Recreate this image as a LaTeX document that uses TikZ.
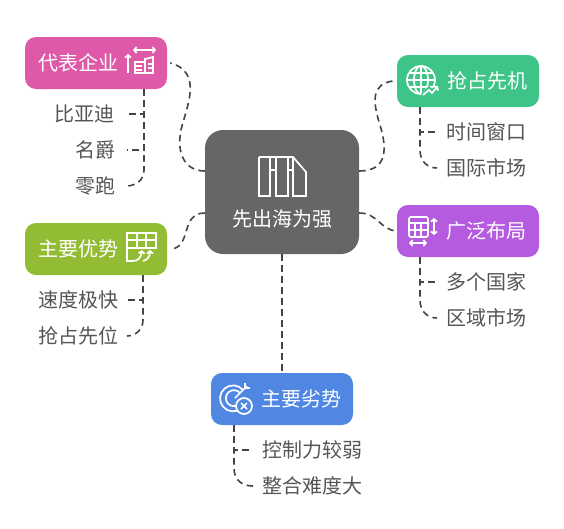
\documentclass[tikz,border=0pt]{standalone}
\usepackage{fontspec}
\setmainfont{Noto Sans CJK SC}
\usetikzlibrary{arrows.meta}
\definecolor{core}{HTML}{666666}
\definecolor{pink}{HTML}{DF59A9}
\definecolor{jade}{HTML}{3FC488}
\definecolor{violet}{HTML}{B55BE0}
\definecolor{olive}{HTML}{93BC35}
\definecolor{azure}{HTML}{4F87E3}
\definecolor{ink}{HTML}{444444}
\definecolor{leaftext}{HTML}{555555}
\tikzset{corebox/.style={fill=core,rounded corners=18pt,minimum width=154pt,minimum height=124pt,inner sep=0pt},branch/.style={rounded corners=11pt,minimum width=142pt,minimum height=52pt,inner sep=0pt},boxtext/.style={text=white,font=\fontsize{20}{20}\selectfont,inner sep=0pt},leafl/.style={text=leaftext,font=\fontsize{20}{20}\selectfont,inner sep=0pt,anchor=east},leafr/.style={text=leaftext,font=\fontsize{20}{20}\selectfont,inner sep=0pt,anchor=west},link/.style={ink,line width=1.6pt,dash pattern=on 6.5pt off 4.5pt},glyph/.style={white,line width=1.7pt},tip/.style={-{Straight Barb[length=2.5pt,width=6pt]}},tips/.style={{Straight Barb[length=2.5pt,width=6pt]}-{Straight Barb[length=2.5pt,width=6pt]}}}
\begin{document}
\begin{tikzpicture}[x=1pt,y=-1pt]
\useasboundingbox (0,0) rectangle (564,528);
\node[corebox] (sea) at (282,192) {};
\node[boxtext] (seatext) at (282,219) {先出海为强};
\node[branch,fill=pink] (firms) at (96,63) {};
\node[boxtext] (firmstext) at (78,63) {代表企业};
\node[branch,fill=jade] (first) at (468,81) {};
\node[boxtext] (firsttext) at (487,81) {抢占先机};
\node[branch,fill=violet] (wide) at (468,231) {};
\node[boxtext] (widetext) at (486,231) {广泛布局};
\node[branch,fill=olive] (gain) at (96,249) {};
\node[boxtext] (gaintext) at (78,249) {主要优势};
\node[branch,fill=azure] (lack) at (282,399) {};
\node[boxtext] (lacktext) at (301,399) {主要劣势};
\node[leafl] (byd) at (115,114) {比亚迪};
\node[leafl] (mg) at (116,150) {名爵};
\node[leafl] (zero) at (116,186) {零跑};
\node[leafr] (window) at (446,132) {时间窗口};
\node[leafr] (world) at (446,168) {国际市场};
\node[leafr] (lands) at (446,282) {多个国家};
\node[leafr] (region) at (446,318) {区域市场};
\node[leafl] (speed) at (119,300) {速度极快};
\node[leafl] (lead) at (119,336) {抢占先位};
\node[leafr] (grip) at (262,450) {控制力较弱};
\node[leafr] (merge) at (262,486) {整合难度大};
% links from the centre
\draw[link] ([yshift=21pt]sea.west) .. controls (186,171) and (176,155) .. (181,130) .. controls (186,108) and (204,72) .. ([xshift=3pt]firms.east);
\draw[link] ([yshift=21pt]sea.east) .. controls (388,171) and (387,148) .. (380,125) .. controls (372,100) and (372,84) .. ([xshift=-4pt]first.west);
\draw[link] ([yshift=-21pt]sea.east) .. controls (378,213) and (380,230) .. (wide.west);
\draw[link] ([yshift=-21pt]sea.west) .. controls (180,213) and (192,247) .. ([xshift=4pt]gain.east);
\draw[link] (sea.south) -- (lack.north);
% links to the leaves
\draw[link,shorten >=12pt] ([xshift=48pt]firms.south) |- (byd.east); \draw[link,shorten >=11pt] ([xshift=48pt]firms.south) |- (mg.east);
\draw[link,shorten >=10pt] ([xshift=48pt]firms.south) -- (144,170) .. controls (144,180) and (136,186) .. (zero.east);
\draw[link,shorten >=9pt] ([xshift=-48pt]first.south) |- (window.west);
\draw[link,shorten >=9pt] ([xshift=-48pt]first.south) -- (420,150) .. controls (420,162) and (428,168) .. (world.west);
\draw[link,shorten >=9pt] ([xshift=-48pt]wide.south) |- (lands.west);
\draw[link,shorten >=9pt] ([xshift=-48pt]wide.south) -- (420,300) .. controls (420,312) and (428,318) .. (region.west);
\draw[link,shorten >=9pt] ([xshift=47pt]gain.south) |- (speed.east);
\draw[link,shorten >=8pt] ([xshift=47pt]gain.south) -- (143,320) .. controls (143,330) and (135,336) .. (lead.east);
\draw[link,shorten >=10pt] ([xshift=-48pt]lack.south) |- (grip.west);
\draw[link,shorten >=9pt] ([xshift=-48pt]lack.south) -- (234,468) .. controls (234,480) and (242,486) .. (merge.west);
% icons
\draw[glyph] (259,157) -- (293,157) -- (306,172) -- (306,196) -- (293,196) -- (293,157) (293,170) -- (288,170) (288,157) -- (288,196) -- (276,196) -- (276,157) (276,170) -- (270,170) (270,157) -- (270,196) -- (259,196) -- (259,157);
\draw[glyph,tips] (133,50) -- (156,50); \draw[glyph,tip] (128,73) -- (128,54);
\draw[glyph] (135,73) -- (135,62) -- (145,62) -- (145,59) -- (153,57) -- (153,73) -- cycle (145,62) -- (145,73) (135,66) -- (142,66) (135,70) -- (142,70) (148,64) -- (153,64) (148,68) -- (153,68);
\draw[glyph] (421,80) circle[radius=14pt] (407,80) -- (435,80) (409,73) -- (433,73) (409,87) -- (433,87) (421,66) -- (421,94) (421,80) ellipse[x radius=7pt,y radius=14pt];
\draw[jade,line width=6pt] (423,96) -- (429,90) -- (432,93) -- (439,86);
\draw[glyph,tip] (423,95) -- (429,90) -- (432,93) -- (438,86);
\draw[glyph,rounded corners=2pt] (409,217) rectangle (428,237); \draw[glyph] (409,223) -- (428,223) (409,230) -- (428,230) (415,223) -- (415,237) (421,223) -- (421,237);
\draw[glyph,tips] (434,218) -- (434,235); \draw[glyph,tips] (409,243) -- (427,243);
\draw[glyph] (127,233) rectangle (156,248) (127,240) -- (156,240) (137,233) -- (137,248) (146,233) -- (146,248);
\draw[olive,line width=5pt] (137,258) -- (142,251) (147,258) -- (150,251);
\draw[glyph,tip] (127,248) -- (127,261) -- (133,261) .. controls (138,261) and (141,258) .. (142,250);
\draw[glyph,tip] (143,261) .. controls (147,260) and (150,257) .. (150,250);
\draw[glyph] (243,390) arc[start angle=40,end angle=310,radius=13pt] (240,393) arc[start angle=40,end angle=300,radius=8pt] (235,398) -- (247,386);
\draw[glyph] (245,388) -- (245,383) (245,388) -- (250,388);
\draw[glyph,fill=azure] (244,406) circle[radius=8pt];
\draw[glyph] (241,403) -- (247,409) (247,403) -- (241,409);
\end{tikzpicture}
\end{document}
